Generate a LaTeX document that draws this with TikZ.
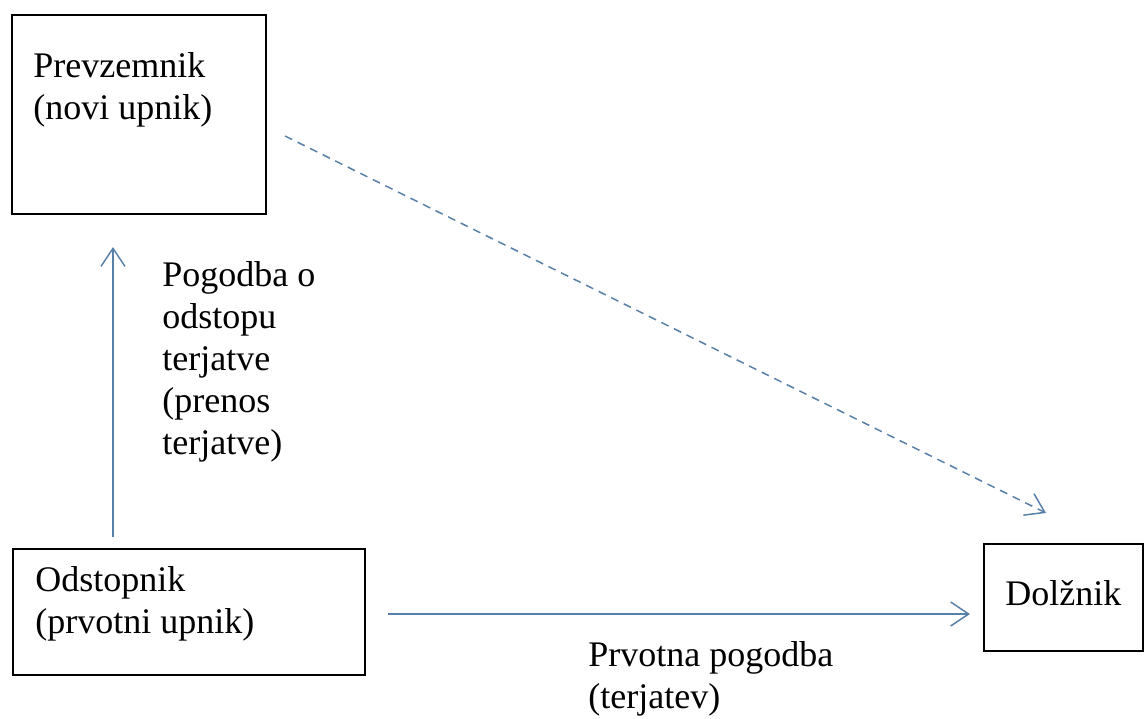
\documentclass[tikz,border=0pt]{standalone}
\usepackage{fontspec}
\setmainfont{Liberation Serif}
\usetikzlibrary{arrows.meta}
\definecolor{arrowblue}{RGB}{88,128,168}
\tikzset{box/.style={draw, line width=1pt, inner sep=0pt, anchor=north west},
 lbl/.style={inner sep=0pt, anchor=base west, align=left, font=\fontsize{18}{21}\selectfont},
 link/.style={draw=arrowblue, line width=0.75pt, -{Straight Barb[length=9pt,width=12pt]}},
 }

\begin{document}
\begin{tikzpicture}[x=0.5pt,y=-0.5pt]
    \useasboundingbox (0,0) rectangle (1144,718);
    \node[box, minimum width=127pt, minimum height=99.5pt] (prevzemnik) at (11,14) {};
    \node[box, minimum width=176pt, minimum height=63pt] (odstopnik) at (12,548) {};
    \node[box, minimum width=79.5pt, minimum height=53.5pt] (dolznik) at (983,543) {};
    \node[lbl] (prevtext) at (33,119) {Prevzemnik\\(novi upnik)};
    \node[lbl] (odsttext) at (35,633) {Odstopnik\\(prvotni upnik)};
    \node[lbl] (doltext) at (1005,605) {Dol\v{z}nik};
    \node[lbl] (odstop) at (162,454) {Pogodba o\\odstopu\\terjatve\\(prenos\\terjatve)};
    \node[lbl] (prvotna) at (588,708) {Prvotna pogodba\\(terjatev)};
    \draw[link] ([xshift=50.5pt, yshift=5.5pt]odstopnik.north west) -- ([xshift=51pt, yshift=-16pt]prevzemnik.south west);
    \draw[link] ([xshift=11pt, yshift=-1pt]odstopnik.east) -- ([xshift=-6.5pt, yshift=-8.25pt]dolznik.west);
    \draw[link, dash pattern=on 4pt off 3pt] ([xshift=9pt, yshift=-10.75pt]prevzemnik.east) -- ([xshift=31.5pt, yshift=15pt]dolznik.north west);
\end{tikzpicture}
\end{document}
